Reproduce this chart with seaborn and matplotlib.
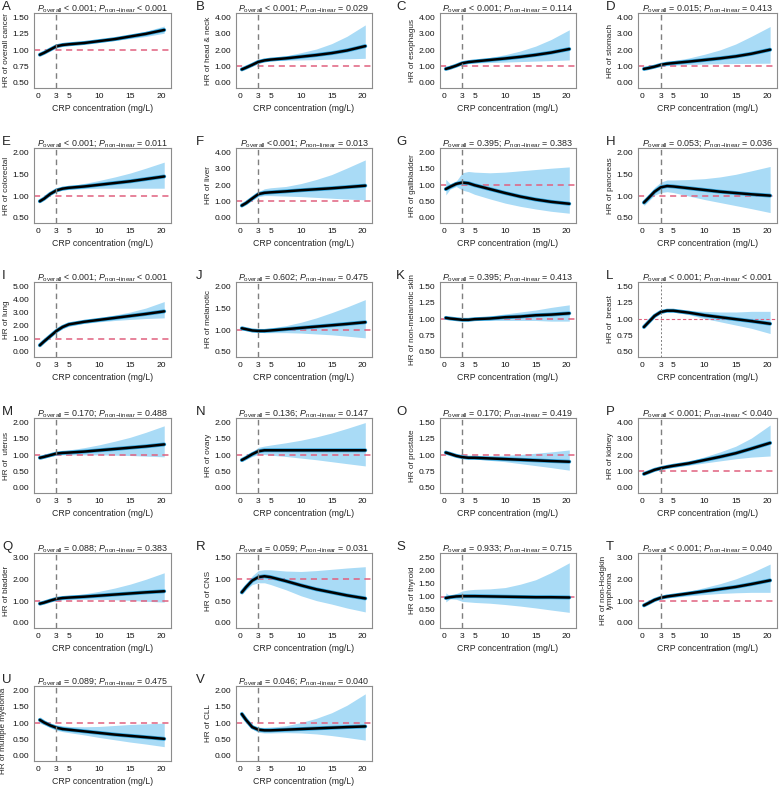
import matplotlib
matplotlib.use("Agg")
import matplotlib.pyplot as plt
import pandas as pd
import seaborn as sns

crp = [0.3, 1, 2, 3, 4, 5, 7.5, 10, 12.5, 15, 17.5, 20.5]

hr_A = [0.93, 0.96, 1.01, 1.06, 1.08, 1.09, 1.11, 1.14, 1.17, 1.21, 1.25, 1.31]
lo_A = [0.92, 0.95, 1.00, 1.05, 1.07, 1.08, 1.10, 1.12, 1.15, 1.18, 1.21, 1.26]
hi_A = [0.95, 0.97, 1.02, 1.07, 1.09, 1.10, 1.13, 1.16, 1.20, 1.24, 1.29, 1.37]

hr_B = [0.82, 0.93, 1.10, 1.28, 1.37, 1.42, 1.50, 1.60, 1.70, 1.82, 1.98, 2.25]
lo_B = [0.78, 0.89, 1.05, 1.20, 1.30, 1.35, 1.38, 1.40, 1.42, 1.45, 1.47, 1.50]
hi_B = [0.87, 0.98, 1.16, 1.38, 1.48, 1.53, 1.65, 1.85, 2.07, 2.40, 2.85, 3.55]

hr_C = [0.85, 0.92, 1.05, 1.20, 1.27, 1.31, 1.40, 1.49, 1.59, 1.71, 1.85, 2.07]
lo_C = [0.82, 0.89, 1.00, 1.12, 1.18, 1.21, 1.24, 1.27, 1.30, 1.33, 1.36, 1.40]
hi_C = [0.89, 0.96, 1.10, 1.30, 1.38, 1.42, 1.55, 1.72, 1.95, 2.25, 2.65, 3.25]

hr_D = [0.85, 0.90, 0.99, 1.10, 1.17, 1.21, 1.30, 1.40, 1.50, 1.62, 1.78, 2.03]
lo_D = [0.80, 0.85, 0.93, 1.00, 1.05, 1.08, 1.12, 1.15, 1.17, 1.18, 1.19, 1.20]
hi_D = [0.90, 0.96, 1.06, 1.22, 1.30, 1.36, 1.52, 1.75, 2.02, 2.38, 2.85, 3.45]

hr_E = [0.88, 0.94, 1.05, 1.13, 1.17, 1.19, 1.22, 1.26, 1.30, 1.34, 1.39, 1.45]
lo_E = [0.86, 0.92, 1.03, 1.10, 1.14, 1.15, 1.17, 1.18, 1.18, 1.18, 1.18, 1.18]
hi_E = [0.90, 0.96, 1.07, 1.16, 1.20, 1.23, 1.29, 1.36, 1.44, 1.53, 1.64, 1.78]

hr_F = [0.75, 0.90, 1.18, 1.45, 1.53, 1.56, 1.62, 1.69, 1.75, 1.81, 1.88, 1.97]
lo_F = [0.70, 0.84, 1.08, 1.30, 1.36, 1.36, 1.33, 1.30, 1.25, 1.20, 1.15, 1.10]
hi_F = [0.80, 0.96, 1.28, 1.60, 1.78, 1.84, 1.92, 2.10, 2.35, 2.65, 3.05, 3.55]

hr_G = [0.88, 0.95, 1.04, 1.08, 1.06, 1.00, 0.88, 0.76, 0.65, 0.56, 0.49, 0.43]
lo_G = [0.70, 0.88, 0.96, 0.85, 0.80, 0.72, 0.58, 0.45, 0.35, 0.27, 0.20, 0.14]
hi_G = [1.18, 1.04, 1.12, 1.38, 1.42, 1.40, 1.38, 1.40, 1.44, 1.48, 1.52, 1.56]

hr_H = [0.85, 0.95, 1.10, 1.20, 1.23, 1.22, 1.18, 1.14, 1.10, 1.07, 1.04, 1.01]
lo_H = [0.78, 0.88, 1.02, 1.08, 1.10, 1.08, 1.00, 0.92, 0.85, 0.78, 0.71, 0.62]
hi_H = [0.92, 1.02, 1.20, 1.32, 1.37, 1.37, 1.38, 1.40, 1.44, 1.50, 1.58, 1.68]

hr_I = [0.50, 0.80, 1.20, 1.60, 1.90, 2.10, 2.30, 2.45, 2.60, 2.75, 2.90, 3.10]
lo_I = [0.45, 0.74, 1.12, 1.50, 1.78, 1.95, 2.18, 2.30, 2.40, 2.48, 2.55, 2.60]
hi_I = [0.55, 0.86, 1.28, 1.72, 2.02, 2.25, 2.45, 2.62, 2.82, 3.05, 3.35, 3.85]

hr_J = [1.04, 1.02, 0.99, 0.98, 0.98, 0.99, 1.02, 1.05, 1.08, 1.11, 1.14, 1.18]
lo_J = [0.99, 0.99, 0.96, 0.95, 0.94, 0.94, 0.94, 0.93, 0.91, 0.89, 0.86, 0.82]
hi_J = [1.10, 1.05, 1.02, 1.02, 1.03, 1.05, 1.10, 1.18, 1.28, 1.40, 1.53, 1.70]

hr_K = [1.02, 1.01, 1.00, 0.99, 0.99, 1.00, 1.01, 1.03, 1.04, 1.06, 1.07, 1.09]
lo_K = [1.01, 1.00, 0.99, 0.98, 0.98, 0.98, 0.98, 0.98, 0.98, 0.98, 0.97, 0.97]
hi_K = [1.03, 1.02, 1.01, 1.00, 1.01, 1.02, 1.05, 1.08, 1.11, 1.14, 1.18, 1.22]

hr_L = [0.88, 0.95, 1.05, 1.11, 1.13, 1.13, 1.10, 1.06, 1.03, 1.00, 0.97, 0.93]
lo_L = [0.87, 0.94, 1.03, 1.09, 1.11, 1.11, 1.07, 1.01, 0.96, 0.91, 0.86, 0.78]
hi_L = [0.90, 0.97, 1.07, 1.13, 1.15, 1.15, 1.13, 1.12, 1.11, 1.11, 1.12, 1.12]

hr_M = [0.92, 0.95, 1.00, 1.05, 1.07, 1.08, 1.11, 1.15, 1.19, 1.23, 1.27, 1.33]
lo_M = [0.87, 0.91, 0.96, 1.00, 1.01, 1.01, 1.01, 1.01, 1.00, 0.99, 0.97, 0.95]
hi_M = [0.97, 1.00, 1.05, 1.10, 1.13, 1.16, 1.23, 1.32, 1.43, 1.55, 1.70, 1.90]

hr_N = [0.85, 0.92, 1.03, 1.12, 1.15, 1.15, 1.15, 1.15, 1.15, 1.15, 1.15, 1.15]
lo_N = [0.80, 0.87, 0.96, 1.02, 1.02, 1.00, 0.96, 0.91, 0.86, 0.80, 0.74, 0.67]
hi_N = [0.90, 0.97, 1.10, 1.24, 1.28, 1.31, 1.38, 1.46, 1.56, 1.68, 1.82, 2.00]

hr_O = [1.04, 1.02, 0.99, 0.97, 0.96, 0.96, 0.95, 0.94, 0.93, 0.92, 0.91, 0.90]
lo_O = [1.02, 1.00, 0.98, 0.96, 0.95, 0.94, 0.92, 0.90, 0.87, 0.84, 0.81, 0.77]
hi_O = [1.07, 1.04, 1.01, 0.99, 0.98, 0.98, 0.99, 1.00, 1.01, 1.03, 1.05, 1.08]

hr_P = [0.85, 0.95, 1.10, 1.20, 1.28, 1.35, 1.50, 1.70, 1.90, 2.12, 2.40, 2.75]
lo_P = [0.80, 0.90, 1.04, 1.13, 1.20, 1.25, 1.38, 1.52, 1.65, 1.78, 1.88, 1.95]
hi_P = [0.90, 1.00, 1.16, 1.28, 1.37, 1.45, 1.63, 1.90, 2.20, 2.55, 3.05, 3.85]

hr_Q = [0.88, 0.93, 1.02, 1.10, 1.14, 1.16, 1.20, 1.25, 1.30, 1.35, 1.40, 1.45]
lo_Q = [0.82, 0.88, 0.97, 1.03, 1.06, 1.07, 1.08, 1.08, 1.06, 1.03, 0.99, 0.95]
hi_Q = [0.95, 0.99, 1.08, 1.18, 1.23, 1.26, 1.33, 1.45, 1.60, 1.78, 2.00, 2.30]

hr_R = [0.70, 0.82, 0.97, 1.05, 1.07, 1.05, 0.96, 0.86, 0.77, 0.70, 0.63, 0.56]
lo_R = [0.65, 0.76, 0.88, 0.92, 0.92, 0.88, 0.76, 0.62, 0.51, 0.43, 0.34, 0.25]
hi_R = [0.75, 0.88, 1.08, 1.20, 1.22, 1.22, 1.19, 1.18, 1.20, 1.23, 1.26, 1.29]

hr_S = [0.95, 0.98, 1.01, 1.02, 1.02, 1.02, 1.01, 1.00, 0.99, 0.98, 0.98, 0.97]
lo_S = [0.80, 0.92, 0.90, 0.82, 0.80, 0.78, 0.75, 0.70, 0.64, 0.57, 0.49, 0.40]
hi_S = [1.15, 1.03, 1.12, 1.22, 1.26, 1.28, 1.30, 1.35, 1.48, 1.65, 1.92, 2.30]

hr_T = [0.80, 0.90, 1.05, 1.15, 1.21, 1.25, 1.35, 1.45, 1.55, 1.65, 1.78, 1.95]
lo_T = [0.76, 0.86, 1.00, 1.09, 1.14, 1.17, 1.24, 1.30, 1.35, 1.38, 1.40, 1.40]
hi_T = [0.84, 0.95, 1.10, 1.22, 1.28, 1.33, 1.45, 1.62, 1.80, 2.02, 2.30, 2.70]

hr_U = [1.10, 1.02, 0.93, 0.86, 0.82, 0.80, 0.75, 0.70, 0.65, 0.61, 0.57, 0.52]
lo_U = [1.00, 0.95, 0.86, 0.78, 0.74, 0.71, 0.64, 0.56, 0.49, 0.42, 0.36, 0.28]
hi_U = [1.20, 1.10, 1.00, 0.95, 0.92, 0.90, 0.89, 0.90, 0.93, 0.96, 0.98, 1.00]

hr_V = [1.28, 1.10, 0.88, 0.80, 0.78, 0.78, 0.80, 0.82, 0.84, 0.86, 0.88, 0.90]
lo_V = [1.18, 1.02, 0.82, 0.72, 0.70, 0.70, 0.71, 0.70, 0.67, 0.62, 0.56, 0.48]
hi_V = [1.38, 1.18, 0.95, 0.88, 0.87, 0.88, 0.92, 1.02, 1.15, 1.32, 1.55, 1.90]

# y tick sets
yt_q = [0.5, 0.75, 1.0, 1.25, 1.5]
yt_4 = [0, 1, 2, 3, 4]
yt_h = [0.5, 1.0, 1.5, 2.0]
yt_2 = [0, 0.5, 1.0, 1.5, 2.0]
yt_5 = [0, 1, 2, 3, 4, 5]
yt_3 = [0, 1, 2, 3]
yt_r = [0, 0.5, 1.0, 1.5]
yt_s = [0, 0.5, 1.0, 1.5, 2.0, 2.5]

# letter, y label, P overall, P non-linear, hr, lo, hi, yticks
panels = [
    ("A", "HR of overall cancer", "< 0.001", "< 0.001", hr_A, lo_A, hi_A, yt_q),
    ("B", "HR of head & neck", "< 0.001", "= 0.029", hr_B, lo_B, hi_B, yt_4),
    ("C", "HR of esophagus", "< 0.001", "= 0.114", hr_C, lo_C, hi_C, yt_4),
    ("D", "HR of stomach", "= 0.015", "= 0.413", hr_D, lo_D, hi_D, yt_4),
    ("E", "HR of colorectal", "< 0.001", "= 0.011", hr_E, lo_E, hi_E, yt_h),
    ("F", "HR of liver", "<0.001", "= 0.013", hr_F, lo_F, hi_F, yt_4),
    ("G", "HR of gallbladder", "= 0.395", "= 0.383", hr_G, lo_G, hi_G, yt_2),
    ("H", "HR of pancreas", "= 0.053", "= 0.036", hr_H, lo_H, hi_H, yt_h),
    ("I", "HR of lung", "< 0.001", "< 0.001", hr_I, lo_I, hi_I, yt_5),
    ("J", "HR of melanotic", "= 0.602", "= 0.475", hr_J, lo_J, hi_J, yt_h),
    ("K", "HR of non-melanotic skin", "= 0.395", "= 0.413", hr_K, lo_K, hi_K, yt_q),
    ("L", "HR of  breast", "< 0.001", "< 0.001", hr_L, lo_L, hi_L, yt_q),
    ("M", "HR of  uterus", "= 0.170", "= 0.488", hr_M, lo_M, hi_M, yt_2),
    ("N", "HR of ovary", "= 0.136", "= 0.147", hr_N, lo_N, hi_N, yt_2),
    ("O", "HR of prostate", "= 0.170", "= 0.419", hr_O, lo_O, hi_O, yt_q),
    ("P", "HR of kidney", "< 0.001", "< 0.040", hr_P, lo_P, hi_P, yt_4),
    ("Q", "HR of bladder", "= 0.088", "= 0.383", hr_Q, lo_Q, hi_Q, yt_3),
    ("R", "HR of CNS", "= 0.059", "= 0.031", hr_R, lo_R, hi_R, yt_r),
    ("S", "HR of thyroid", "= 0.933", "= 0.715", hr_S, lo_S, hi_S, yt_s),
    ("T", "HR of non-Hodgkin\nlymphoma", "< 0.001", "= 0.040", hr_T, lo_T, hi_T, yt_3),
    ("U", "HR of multiple myeloma", "= 0.089", "= 0.475", hr_U, lo_U, hi_U, yt_2),
    ("V", "HR of CLL", "= 0.046", "= 0.040", hr_V, lo_V, hi_V, yt_2),
]

sns.set_style("white")
plt.rcParams['font.family'] = ['Liberation Sans', 'DejaVu Sans']
plt.rcParams['mathtext.fontset'] = 'custom'
plt.rcParams['mathtext.rm'] = 'Liberation Sans'
plt.rcParams['mathtext.it'] = 'Liberation Sans:italic'

W, H = 780, 788
fig = plt.figure(figsize=(W / 100, H / 100), dpi=100)

col_left = [34, 236, 440, 638]
col_width = [137, 136, 136, 139]
letter_x = [2, 196, 396, 606]
row_top = [13, 148, 282, 418, 553, 686]
ax_h = 75

band_col = '#a9dbf6'
ref_col = '#e0607e'

for i, (let, ylab, p1, p2, hr, lo, hi, yt) in enumerate(panels):
    r, c = divmod(i, 4)
    x0 = col_left[c]
    y0 = row_top[r]
    ax = fig.add_axes([x0 / W, 1 - (y0 + ax_h) / H, col_width[c] / W, ax_h / H])

    df = pd.DataFrame({'CRP': crp, 'HR': hr, 'lo': lo, 'hi': hi})
    ax.fill_between(df['CRP'], df['lo'], df['hi'], color=band_col, lw=0, zorder=1)
    sns.lineplot(data=df, x='CRP', y='HR', ax=ax, color='#2a9fd8', lw=2.8, zorder=3)
    sns.lineplot(data=df, x='CRP', y='HR', ax=ax, color='black', lw=1.8, zorder=4)

    thin = (let == "L")
    ax.axhline(1.0, color=ref_col, lw=0.8 if thin else 1.1,
               dashes=(4, 3) if not thin else (3, 2), zorder=2)
    ax.axvline(3, color='#7f7f7f', lw=0.7 if thin else 1.0,
               dashes=(4, 3) if not thin else (2, 2), zorder=5)

    rng = yt[-1] - yt[0]
    ax.set_ylim(yt[0] - 0.08 * rng, yt[-1] + 0.07 * rng)
    ax.set_xlim(-0.65, 21.6)
    ax.set_yticks(yt)
    ax.set_yticklabels(["%.2f" % v for v in yt])
    ax.set_xticks([0, 3, 5, 10, 15, 20])

    ax.set_xlabel("CRP concentration (mg/L)", fontsize=6.3, labelpad=3)
    ax.set_ylabel(ylab, fontsize=5.9, labelpad=2, linespacing=0.9)
    if let == "U":
        # long label: push it down a little so it clears the panel letter
        ax.yaxis.set_label_coords(ax.yaxis.label.get_position()[0], 0.4)
        ax.yaxis.set_label_coords(-0.2, 0.4)
    ax.tick_params(axis='both', labelsize=6.1, length=2, width=0.6,
                   color='#555555', pad=1.5, labelcolor='#111111')
    for sp in ax.spines.values():
        sp.set_color('#8c8c8c')
        sp.set_linewidth(0.8)

    title = (r"$\mathit{P}_{\mathrm{overall}}$ " + p1 + "; " +
             r"$\mathit{P}_{\mathrm{non\!-\!linear}}$ " + p2)
    ax.set_title(title, fontsize=6.4, pad=2)
    fig.text(letter_x[c] / W, 1 - (y0 - 6) / H, let, fontsize=9.5,
             ha='left', va='center')

fig.savefig("out.png", dpi=100)
